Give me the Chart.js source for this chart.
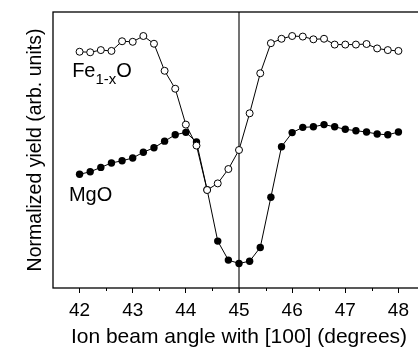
<!DOCTYPE html>
<html><head><meta charset="utf-8">
<script src="https://cdn.jsdelivr.net/npm/chart.js@4.4.1/dist/chart.umd.min.js"></script>
<style>html,body{margin:0;padding:0;background:#fff;overflow:hidden;}
#wrap{width:430px;height:350px;position:relative;}</style>
</head><body><div id="wrap"><canvas id="c"></canvas></div>
<script>
// Ion beam angle (degrees)
const angles = [42.0,42.2,42.4,42.6,42.8,43.0,43.2,43.4,43.6,43.8,44.0,44.2,44.4,44.6,44.8,45.0,45.2,45.4,45.6,45.8,46.0,46.2,46.4,46.6,46.8,47.0,47.2,47.4,47.6,47.8,48.0];
// Normalized yield (arb. units)
const feO = [0.856,0.854,0.862,0.859,0.894,0.892,0.913,0.885,0.787,0.722,0.592,0.516,0.355,0.379,0.431,0.500,0.633,0.778,0.887,0.903,0.913,0.911,0.901,0.903,0.882,0.882,0.882,0.884,0.868,0.862,0.859];
const mgO = [0.412,0.421,0.437,0.453,0.461,0.471,0.492,0.508,0.532,0.555,0.564,0.529,0.356,0.170,0.101,0.089,0.097,0.147,0.329,0.512,0.563,0.582,0.584,0.592,0.584,0.575,0.570,0.565,0.558,0.555,0.565];
const xTicks = [42,43,44,45,46,47,48];
const xMinorTicks = [42.5,43.5,44.5,45.5,46.5,47.5];
const markerAngle = 45;
const seriesNames = ['Fe1-xO','MgO'];

const FONT = "'Liberation Sans', Arial, Helvetica, sans-serif";

const extras = {
  id: 'extras',
  beforeDatasetsDraw(chart) {
    const {ctx, chartArea: a, scales: {x}} = chart;
    const px = x.getPixelForValue(markerAngle);
    ctx.save();
    ctx.strokeStyle = '#444';
    ctx.lineWidth = 1.5;
    ctx.beginPath(); ctx.moveTo(px, a.top); ctx.lineTo(px, a.bottom + 5); ctx.stroke();
    ctx.restore();
  },
  afterDraw(chart) {
    const {ctx, chartArea: a, scales: {x, y}} = chart;
    ctx.save();
    ctx.strokeStyle = '#000';
    ctx.lineWidth = 1.3;
    ctx.strokeRect(a.left, a.top, a.right - a.left, a.bottom - a.top);
    ctx.lineWidth = 1;
    xMinorTicks.forEach(v => {
      const px = Math.round(x.getPixelForValue(v)) + 0.5;
      ctx.beginPath(); ctx.moveTo(px, a.bottom); ctx.lineTo(px, a.bottom + 3); ctx.stroke();
    });
    // series labels
    ctx.fillStyle = '#000';
    ctx.textBaseline = 'alphabetic';
    ctx.textAlign = 'left';
    let fx = x.getPixelForValue(41.86), fy = y.getPixelForValue(0.765);
    ctx.font = '20px ' + FONT;
    ctx.fillText('Fe', fx, fy);
    fx += ctx.measureText('Fe').width;
    ctx.font = '15px ' + FONT;
    ctx.fillText('1-x', fx, fy + 7);
    fx += ctx.measureText('1-x').width;
    ctx.font = '20px ' + FONT;
    ctx.fillText('O', fx, fy);
    const mx = x.getPixelForValue(41.80), my = y.getPixelForValue(0.316);
    ctx.fillText('MgO', mx, my);
    ctx.restore();
  }
};

new Chart(document.getElementById('c'), {
  type: 'line',
  data: {
    datasets: [
      {
        label: seriesNames[0],
        data: angles.map((a, i) => ({x: a, y: feO[i]})),
        borderColor: '#000', borderWidth: 1,
        pointRadius: 3.5, pointBackgroundColor: '#fff', pointBorderColor: '#000', pointBorderWidth: 1,
        order: 0, tension: 0
      },
      {
        label: seriesNames[1],
        data: angles.map((a, i) => ({x: a, y: mgO[i]})),
        borderColor: '#000', borderWidth: 1,
        pointRadius: 3.7, pointBackgroundColor: '#000', pointBorderColor: '#000', pointBorderWidth: 0,
        order: 1, tension: 0
      }
    ]
  },
  options: {
    responsive: true,
    maintainAspectRatio: false,
    devicePixelRatio: 1,
    animation: false,
    layout: {padding: {top: 12, right: 1, left: 0, bottom: 0}},
    plugins: {legend: {display: false}, tooltip: {enabled: false}},
    scales: {
      x: {
        type: 'linear', min: 41.5, max: 48.5,
        afterBuildTicks: s => { s.ticks = xTicks.map(v => ({value: v})); },
        afterFit: s => { s.height = 62; },
        grid: {drawOnChartArea: false, drawTicks: true, tickLength: 5, tickColor: '#000', tickWidth: 1},
        border: {display: false},
        ticks: {color: '#000', font: {family: FONT, size: 19}, padding: 6, maxRotation: 0},
        title: {display: true, text: 'Ion beam angle with [100] (degrees)', color: '#000',
                font: {family: FONT, size: 21, lineHeight: 1.2}, padding: {top: 0, bottom: 0}}
      },
      y: {
        type: 'linear', min: 0, max: 1,
        afterFit: s => { s.width = 53; },
        grid: {display: false},
        border: {display: false},
        ticks: {display: false},
        title: {display: true, text: 'Normalized yield (arb. units)', color: '#000',
                font: {family: FONT, size: 19.5, lineHeight: 1.2}, padding: {top: 24, bottom: 0}}
      }
    }
  },
  plugins: [extras]
});
</script>
</body></html>
